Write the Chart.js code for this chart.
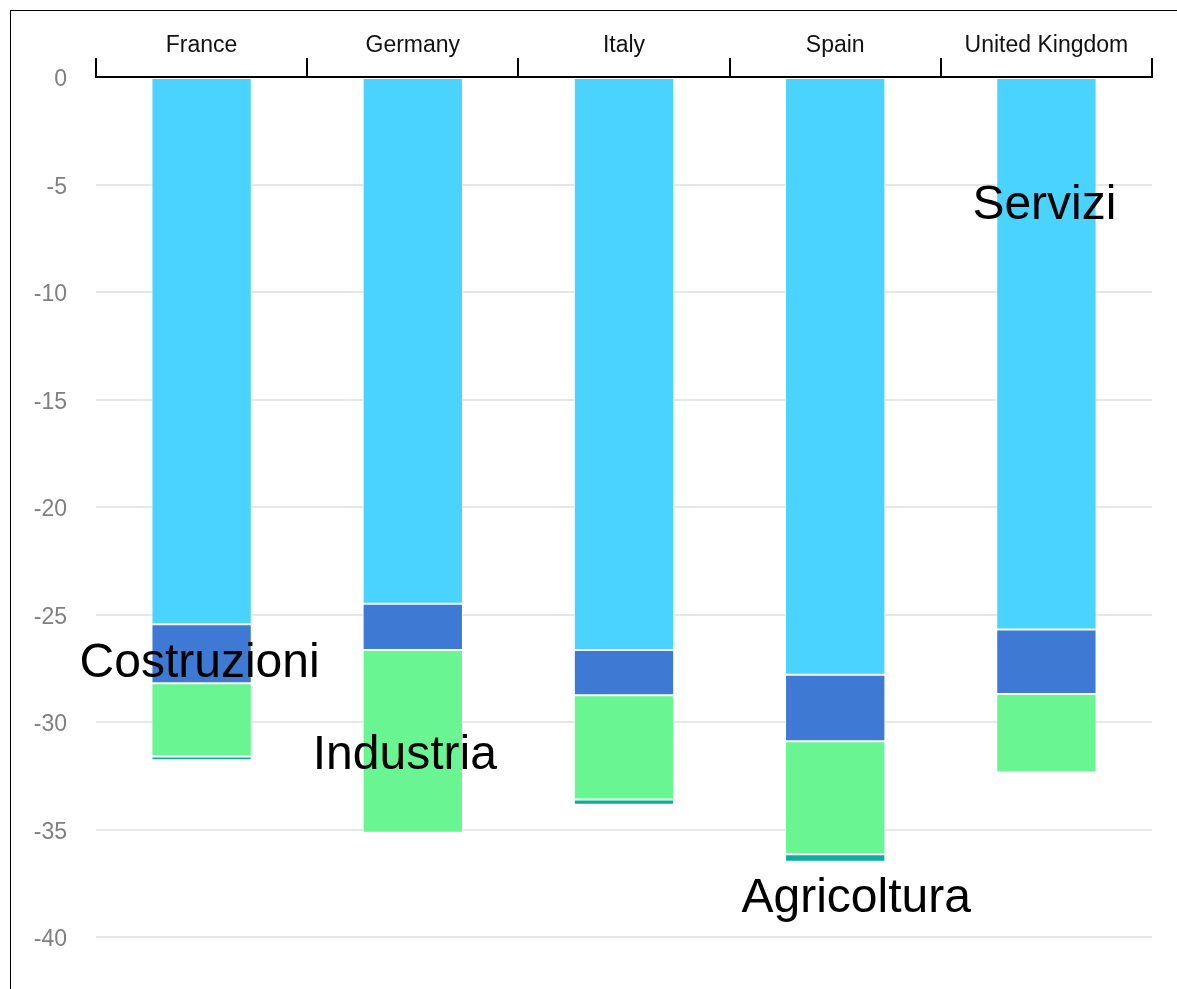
<!DOCTYPE html>
<html>
<head>
<meta charset="utf-8">
<script src="https://cdn.jsdelivr.net/npm/chart.js@4"></script>
<style>
    body { margin: 0; background: #fff; overflow: hidden; }
    .frame {
        position: absolute; left: 10px; top: 10px;
        width: 2000px; height: 2000px;
        border: 1px solid #000;
    }
    .chart-box {
        position: absolute; left: 0; top: 0;
        width: 1177px; height: 989px;
    }
</style>
</head>
<body>
<div class="frame"></div>
<div class="chart-box"><canvas id="settori-chart"></canvas></div>
<script>
// dati
const paesi = ["France", "Germany", "Italy", "Spain", "United Kingdom"];
const servizi = [-25.45, -24.5, -26.65, -27.8, -25.7];
const costruzioni = [-2.75, -2.15, -2.1, -3.1, -3.0];
const industria = [-3.4, -8.5, -4.85, -5.25, -3.65];
const agricoltura = [-0.18, 0, -0.25, -0.35, 0];
const yTicks = [0, -5, -10, -15, -20, -25, -30, -35, -40];

// etichette delle serie dentro il grafico
const etichette = [
    { text: "Servizi", cat: 4, val: -6.0, dx: -2 },
    { text: "Costruzioni", cat: 0, val: -27.3, dx: -2 },
    { text: "Industria", cat: 1, val: -31.55, dx: -8 },
    { text: "Agricoltura", cat: 3, val: -38.2, dx: 21 },
];

const etichettePlugin = {
    id: "etichette",
    afterDatasetsDraw(chart) {
        const ctx = chart.ctx;
        const xs = chart.scales.x;
        const ys = chart.scales.y;
        ctx.save();
        ctx.font = "48px 'Liberation Sans', Arial, sans-serif";
        ctx.fillStyle = "#000";
        ctx.textAlign = "center";
        ctx.textBaseline = "middle";
        for (let e of etichette) {
            ctx.fillText(e.text, xs.getPixelForValue(e.cat) + e.dx, ys.getPixelForValue(e.val));
        }
        ctx.restore();
    },
};

function serie(label, data, color) {
    return {
        label: label,
        data: data,
        backgroundColor: color,
        borderColor: "rgba(255,255,255,0.9)",
        borderWidth: 1,
        borderSkipped: false,
        barPercentage: 0.475,
        categoryPercentage: 1,
    };
}

new Chart(document.querySelector("#settori-chart"), {
    type: "bar",
    data: {
        labels: paesi,
        datasets: [
            serie("Servizi", servizi, "#4AD3FF"),
            serie("Costruzioni", costruzioni, "#3E79D3"),
            serie("Industria", industria, "#69F592"),
            serie("Agricoltura", agricoltura, "#0BADA0"),
        ],
    },
    options: {
        responsive: true,
        maintainAspectRatio: false,
        animation: false,
        layout: { padding: { left: 0, right: 25, top: 0, bottom: 52 } },
        plugins: {
            legend: { display: false },
            tooltip: { enabled: false },
        },
        scales: {
            x: {
                position: "top",
                stacked: true,
                offset: true,
                grid: {
                    offset: true,
                    drawOnChartArea: false,
                    drawTicks: true,
                    tickLength: 19,
                    color: "#000",
                    lineWidth: 2,
                },
                border: { display: true, color: "#000", width: 2 },
                ticks: {
                    color: "#111",
                    padding: -1,
                    font: { family: "'Liberation Sans', Arial, sans-serif", size: 23 },
                    maxRotation: 0,
                    autoSkip: false,
                },
                afterFit(scale) {
                    scale.height = 77;
                },
            },
            y: {
                stacked: true,
                min: -40,
                max: 0,
                afterBuildTicks(scale) {
                    scale.ticks = yTicks.map((v) => ({ value: v }));
                },
                grid: {
                    color: "#e6e6e6",
                    lineWidth: 2,
                    drawTicks: false,
                },
                border: { display: false },
                ticks: {
                    color: "#808080",
                    padding: 29,
                    labelOffset: 3,
                    font: { family: "'Liberation Sans', Arial, sans-serif", size: 23 },
                },
                afterFit(scale) {
                    scale.width = 96;
                },
            },
        },
    },
    plugins: [etichettePlugin],
});
</script>
</body>
</html>
